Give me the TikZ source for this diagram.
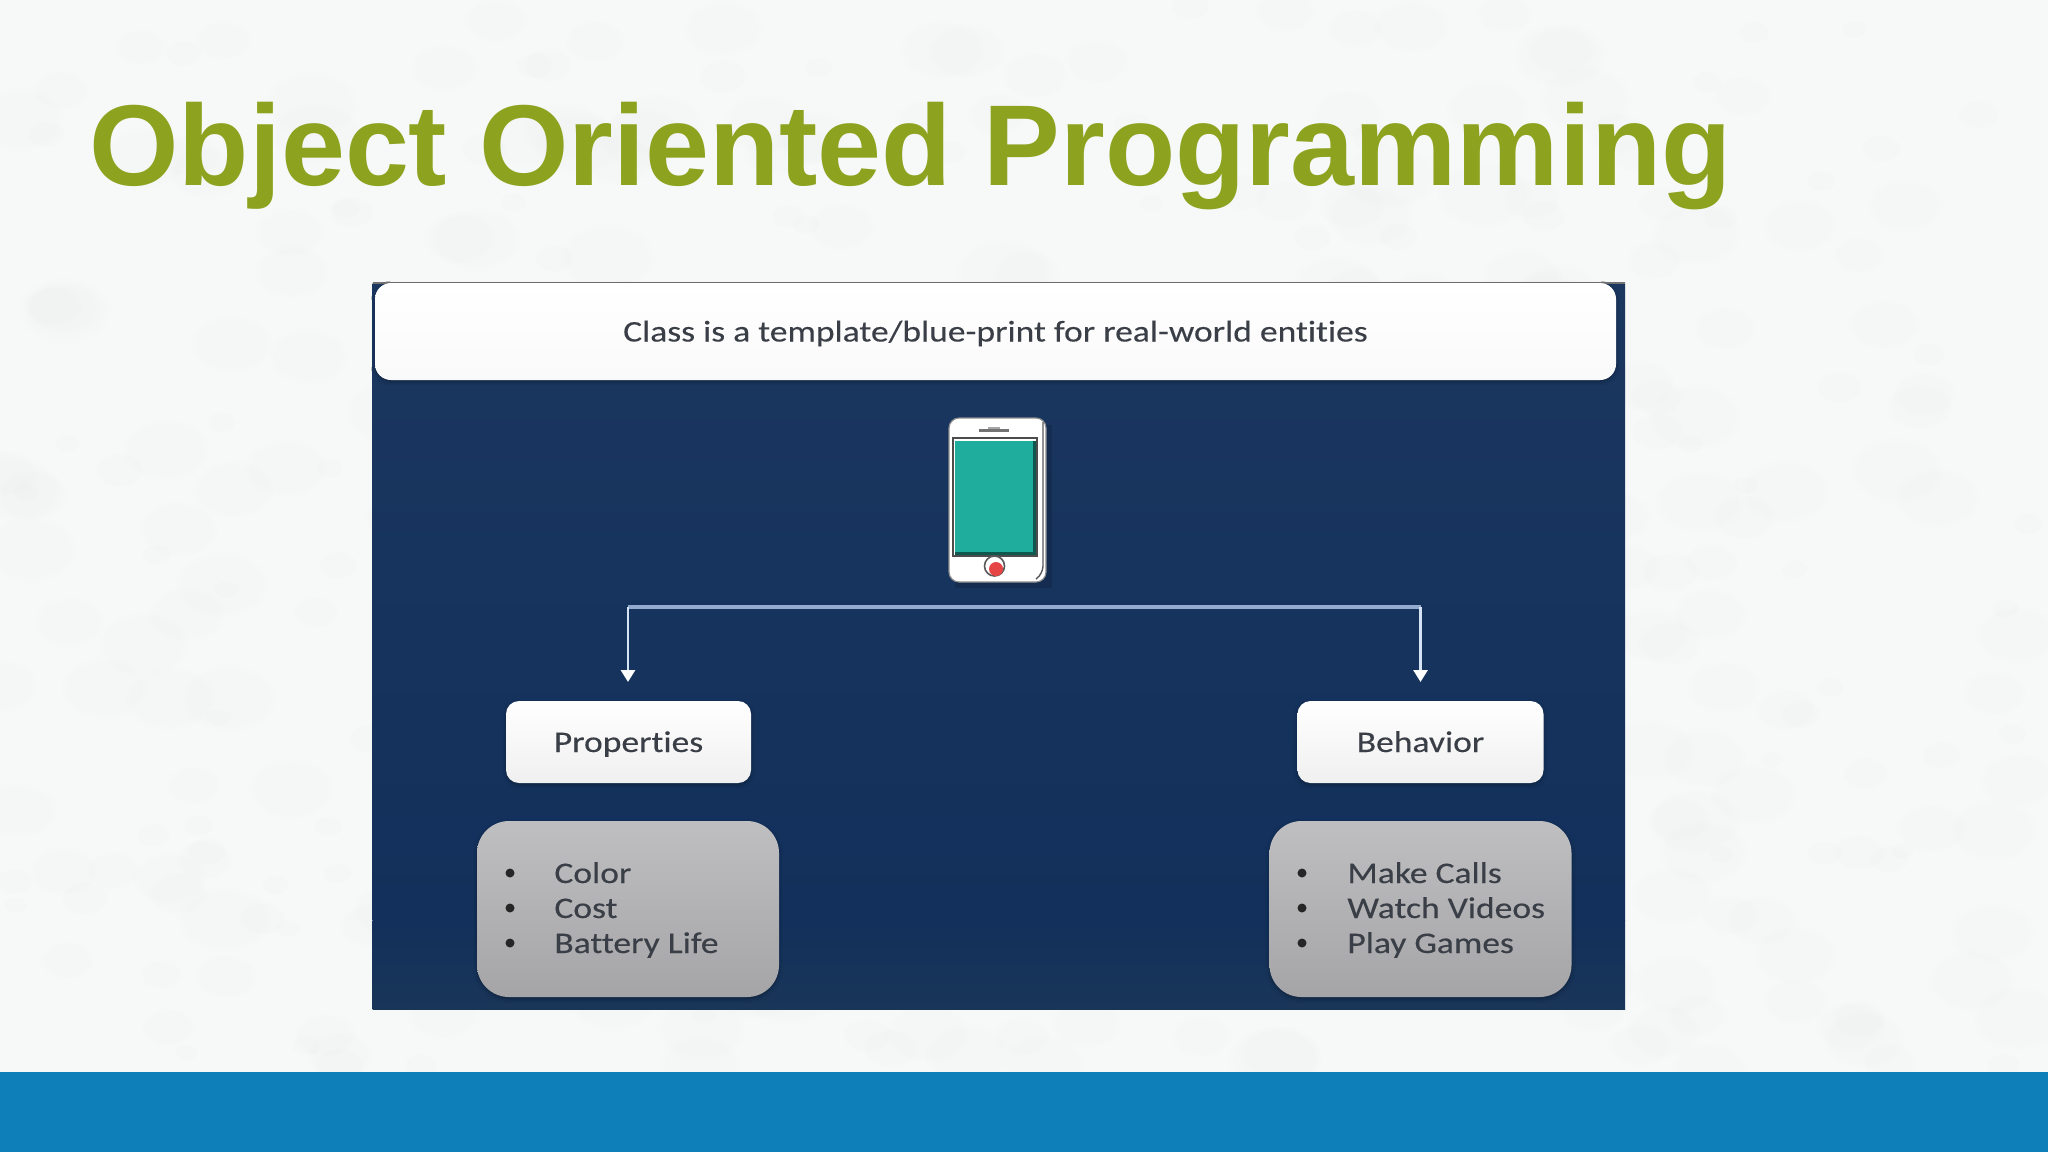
\documentclass[tikz,border=0pt]{standalone}
\usepackage{fontspec}
\setmainfont{Carlito}
\newfontfamily\titlefont{Liberation Sans}
\newfontfamily\bodyfont{Carlito}[FakeStretch=1.185,FakeBold=0.25,Ligatures=NoCommon]
\usetikzlibrary{arrows.meta,shadows.blur,positioning,fadings}
\definecolor{pagebg}{HTML}{F7F8F8}
\definecolor{barblue}{HTML}{0E7FB8}
\definecolor{titlegreen}{HTML}{8DA31F}
\definecolor{paneltop}{HTML}{1B3760}
\definecolor{panelmid}{HTML}{12305B}
\definecolor{panelbot}{HTML}{193558}
\definecolor{inktext}{HTML}{3A3E46}
\definecolor{wireline}{HTML}{93ABCF}
\definecolor{wirelight}{HTML}{D5E3F3}
\definecolor{graytop}{HTML}{BFBEC1}
\definecolor{graybot}{HTML}{A5A5A7}
\definecolor{teal}{HTML}{1FAE9E}
\tikzset{
  x=0.5pt,y=-0.5pt,
  labelbox/.style={rounded corners=6.5pt,top color=white,bottom color=white!94!black,inner sep=0pt,font=\bodyfont\fontsize{15}{18}\selectfont,text=inktext,text height=12pt,text depth=2pt,minimum width=122.5pt,minimum height=41pt,blur shadow={shadow xshift=0pt,shadow yshift=-1pt,shadow blur steps=6,shadow opacity=30}},
  graybox/.style={rounded corners=16pt,top color=graytop,bottom color=graybot,inner sep=0pt,minimum width=151pt,minimum height=88pt,blur shadow={shadow xshift=0pt,shadow yshift=-1pt,shadow blur steps=6,shadow opacity=30}},
  listtext/.style={anchor=base west,inner sep=0pt,font=\bodyfont\fontsize{15}{18}\selectfont,text=inktext},
  bulletdot/.style={circle,fill=black!85,inner sep=0pt,minimum size=4.5pt},
  wire/.style={draw=wireline,line width=1.7pt},
  wirearrow/.style={draw=wirelight,line width=1.4pt,-{Triangle[length=6pt,width=7pt,color=white]}},
  mottle/.style={fill=black!50,path fading=circle with fuzzy edge 20 percent,fill opacity=0.017},
}
\begin{document}
\begin{tikzpicture}
\useasboundingbox (0,0) rectangle (2048,1152);
\fill[pagebg] (0,0) rectangle (2048,1152);
\pgfmathsetseed{4217}
\foreach \i in {1,...,420}{
  \pgfmathsetmacro{\px}{random(0,2048)}
  \pgfmathsetmacro{\py}{random(0,1072)}
  \pgfmathsetmacro{\rad}{random(12,48)}
  \fill[mottle] (\px,\py) ellipse[x radius=\rad,y radius=\rad*0.7];
}
\fill[barblue] (0,1072) rectangle (2048,1152);
\node[anchor=base west,inner sep=0pt,font=\titlefont\bfseries\fontsize{57.5}{60}\selectfont,text=titlegreen] (title) at (89,185) {Object Oriented Programming};
\fill[top color=paneltop,bottom color=panelmid] (372.5,283) rectangle (1625,920);
\fill[top color=panelmid,bottom color=panelbot] (372.5,920) rectangle (1625,1009);
\draw[black!55,line width=0.6pt] (372.5,283) -- (1625,283);
\node[labelbox,minimum width=620.5pt,minimum height=48.5pt,rounded corners=8pt,bottom color=white!98!black] (banner) at (995.5,331.5) {Class is a template/blue-print for real-world entities};
% phone
\fill[black,opacity=0.15] (955,425) rectangle (1052,588);
\draw[fill=white,draw=black!45,line width=0.6pt,rounded corners=5pt] (949,418) rectangle (1046,582);
\draw[black!65,line width=0.7pt,rounded corners=4pt] (1043,422) -- (1043,574) -- (1036,579);
\fill[black!55] (979,429) rectangle (1009,431.5);
\fill[black!35] (988,426.5) rectangle (1000,428.5);
\draw[black!70,line width=0.8pt] (953,438) rectangle (1037,556);
\fill[teal] (955,441) rectangle (1035,553);
\fill[black!50!teal] (1033,441) rectangle (1036,555);
\fill[black!50!teal] (955,552) rectangle (1036,555);
\draw[fill=white,draw=black!65,line width=0.8pt] (994.5,566) circle[radius=10];
\fill[red!70!white!90!black] (996,569) circle[radius=7];
% connector
\coordinate (hub) at (996,607);
\node[labelbox] (props) at (628.5,742) {Properties};
\node[labelbox,minimum width=123pt] (behav) at (1420.5,742) {Behavior};
\coordinate (tipL) at (628,682);
\coordinate (tipR) at (1420.5,682);
\path (tipL|-hub) coordinate (cL) (tipR|-hub) coordinate (cR);
\draw[wire] (cL) -- (hub) -- (cR);
\draw[wirearrow] (cL) -- (tipL);
\draw[wirearrow] (cR) -- (tipR);
\node[graybox] (lista) at (628,909) {};
\node[graybox] (listb) at (1420.5,909) {};
\foreach \yy/\tt/\nm in {883/Color/a,918/Cost/b,953/Battery Life/c}{
  \node[listtext] (pt\nm) at (554,\yy) {\tt};
  \node[bulletdot] (pd\nm) at (510,\yy-10) {};
}
\foreach \yy/\tt/\nm in {883/Make Calls/a,918/Watch Videos/b,953/Play Games/c}{
  \node[listtext] (bt\nm) at (1347,\yy) {\tt};
  \node[bulletdot] (bd\nm) at (1302,\yy-10) {};
}
\end{tikzpicture}
\end{document}
